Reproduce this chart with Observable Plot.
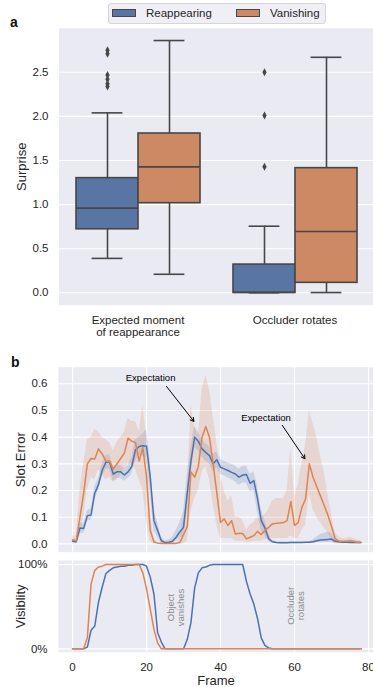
<!DOCTYPE html>
<html><head><meta charset="utf-8">
<script src="https://cdn.jsdelivr.net/npm/d3@7"></script>
<script src="https://cdn.jsdelivr.net/npm/@observablehq/plot@0.6"></script>
<style>
html,body{margin:0;padding:0;background:#fff;overflow:hidden;width:373px;height:687px;}
#root{position:relative;width:373px;height:687px;font-family:"Liberation Sans",Arial,sans-serif;color:#262626;}
.panel{position:absolute;left:0;}
.letter{position:absolute;font-weight:bold;font-size:14px;line-height:14px;color:#111;}
#legend{position:absolute;left:108px;top:3px;width:216px;height:19px;background:#EFEFF5;border:1px solid #d6d6d6;border-radius:3px;font-size:11.5px;}
#legend .patch{position:absolute;top:5px;width:22px;height:6px;border:1px solid #474747;}
#legend .lt{position:absolute;top:3px;line-height:13px;color:#262626;}
[aria-label="y-axis label"],[aria-label="x-axis label"]{font-size:13px;}
</style></head><body><div id="root">
<div class="letter" style="left:10px;top:15px">a</div>
<div class="letter" style="left:11px;top:355px">b</div>
<div id="legend">
<span class="patch" style="left:3px;background:#5875A4"></span><span class="lt" style="left:37px">Reappearing</span>
<span class="patch" style="left:127px;background:#CC8963"></span><span class="lt" style="left:161px">Vanishing</span>
</div>
</div>
<script>
// ---------- Panel a: box plot summary ----------
const categories = ["Expected moment\nof reappearance", "Occluder rotates"];
const seriesNames = ["Reappearing", "Vanishing"];
const surpriseTicks = [0, 0.5, 1, 1.5, 2, 2.5];
const reapLow = [0.39, 0.0], reapQ1 = [0.72, 0.0], reapMed = [0.96, 0.003], reapQ3 = [1.30, 0.32], reapHigh = [2.04, 0.755];
const vanLow = [0.21, 0.003], vanQ1 = [1.016, 0.113], vanMed = [1.428, 0.695], vanQ3 = [1.806, 1.413], vanHigh = [2.86, 2.67];
const reapOutliers = [[2.75, 2.71, 2.47, 2.42, 2.37, 2.34], [2.50, 2.01, 1.43]];
const vanOutliers = [[], []];

// ---------- Panel b: slot error per frame ----------
const frames = d3.range(0, 79);
const reapError = [0.010,0.008,0.060,0.058,0.106,0.108,0.190,0.222,0.275,0.306,
  0.308,0.262,0.270,0.270,0.258,0.270,0.290,0.352,0.365,0.368,
  0.366,0.250,0.088,0.050,0.012,0.005,0.006,0.010,0.025,0.045,
  0.062,0.190,0.310,0.400,0.385,0.356,0.343,0.331,0.300,0.315,
  0.287,0.281,0.275,0.268,0.262,0.250,0.258,0.260,0.227,0.237,
  0.170,0.087,0.060,0.020,0.008,0.005,0.004,0.004,0.004,0.005,
  0.005,0.005,0.005,0.006,0.006,0.008,0.012,0.015,0.016,0.017,
  0.018,0.010,0.008,0.006,0.006,0.005,0.005,0.005,0.005];
const reapLo = [0.005,0.004,0.040,0.040,0.085,0.090,0.165,0.200,0.250,0.280,
  0.280,0.235,0.245,0.245,0.235,0.245,0.260,0.310,0.330,0.330,
  0.320,0.190,0.050,0.025,0.003,0.000,0.000,0.002,0.010,0.020,
  0.030,0.130,0.260,0.360,0.350,0.325,0.310,0.300,0.270,0.285,
  0.260,0.255,0.248,0.240,0.233,0.220,0.228,0.228,0.195,0.200,
  0.120,0.050,0.030,0.008,0.003,0.002,0.001,0.001,0.001,0.001,
  0.001,0.001,0.001,0.001,0.001,0.002,0.004,0.005,0.005,0.005,
  0.006,0.003,0.002,0.002,0.002,0.002,0.002,0.002,0.002];
const reapHi = [0.015,0.012,0.080,0.075,0.125,0.130,0.215,0.245,0.300,0.330,
  0.335,0.290,0.295,0.295,0.280,0.295,0.320,0.390,0.400,0.410,
  0.430,0.310,0.130,0.080,0.025,0.012,0.015,0.025,0.050,0.080,
  0.120,0.260,0.360,0.440,0.420,0.390,0.375,0.365,0.335,0.345,
  0.315,0.310,0.303,0.298,0.292,0.280,0.290,0.292,0.260,0.270,
  0.220,0.130,0.090,0.035,0.014,0.009,0.008,0.008,0.008,0.008,
  0.008,0.008,0.008,0.008,0.008,0.015,0.025,0.035,0.040,0.045,
  0.040,0.020,0.015,0.010,0.010,0.010,0.010,0.010,0.010];
const vanError = [0.016,0.012,0.100,0.190,0.300,0.320,0.318,0.356,0.337,0.310,
  0.310,0.280,0.300,0.320,0.340,0.396,0.385,0.380,0.310,0.360,
  0.250,0.050,0.008,0.003,0.002,0.002,0.002,0.002,0.002,0.005,
  0.035,0.065,0.270,0.250,0.290,0.400,0.440,0.400,0.300,0.190,
  0.080,0.094,0.069,0.087,0.037,0.040,0.039,0.019,0.025,0.031,
  0.047,0.035,0.050,0.062,0.075,0.077,0.078,0.080,0.087,0.159,
  0.069,0.080,0.137,0.169,0.300,0.250,0.215,0.180,0.145,0.108,
  0.065,0.020,0.010,0.010,0.010,0.012,0.010,0.005,0.005];
const vanLo = [0.000,0.000,0.030,0.100,0.200,0.250,0.240,0.280,0.260,0.240,
  0.250,0.230,0.240,0.260,0.280,0.300,0.300,0.280,0.240,0.200,
  0.080,0.010,0.000,0.000,0.000,0.000,0.000,0.000,0.000,0.000,
  0.000,0.010,0.120,0.170,0.200,0.270,0.290,0.240,0.150,0.070,
  0.020,0.020,0.020,0.020,0.010,0.010,0.010,0.005,0.005,0.010,
  0.010,0.010,0.015,0.020,0.020,0.020,0.020,0.020,0.020,0.030,
  0.020,0.020,0.050,0.070,0.190,0.130,0.100,0.080,0.060,0.045,
  0.010,0.000,0.000,0.000,0.000,0.000,0.000,0.000,0.000];
const vanHi = [0.030,0.030,0.200,0.300,0.390,0.400,0.430,0.420,0.400,0.390,
  0.380,0.350,0.380,0.400,0.420,0.470,0.460,0.460,0.420,0.520,
  0.400,0.120,0.020,0.005,0.005,0.005,0.005,0.005,0.005,0.020,
  0.100,0.180,0.520,0.440,0.400,0.580,0.630,0.580,0.480,0.380,
  0.250,0.200,0.160,0.180,0.100,0.100,0.090,0.050,0.070,0.080,
  0.100,0.090,0.110,0.130,0.160,0.170,0.170,0.170,0.200,0.360,
  0.180,0.220,0.300,0.370,0.500,0.450,0.400,0.330,0.270,0.190,
  0.110,0.040,0.025,0.020,0.020,0.025,0.020,0.015,0.010];
const errorTicks = [0, 0.1, 0.2, 0.3, 0.4, 0.5, 0.6];
const frameTicks = [0, 20, 40, 60, 80];
const noteLabels = ["Expectation", "Expectation"];
const noteFrames = [21.1, 52.3], noteErrors = [0.621, 0.471];
const arrowFromFrames = [25.4, 56.7], arrowFromErrors = [0.59, 0.444];
const arrowToFrames = [32.8, 62.8], arrowToErrors = [0.459, 0.319];

// ---------- Visibility ----------
const reapVis = [0,0,0,0,0.02,0.22,0.27,0.55,0.73,0.89,
  0.93,0.96,0.97,0.98,0.98,0.99,0.99,1,1,1,
  0.98,0.85,0.65,0.19,0.08,0,0,0,0,0,
  0,0.11,0.31,0.72,0.9,0.96,0.97,0.99,1,1,
  1,1,1,1,1,1,1,0.8,0.65,0.53,
  0.36,0.13,0.04,0.01,0,0,0,0,0,0,
  0,0,0,0,0,0,0,0,0,0,
  0,0,0,0,0,0,0,0,0];
const vanVis = [0,0,0,0,0.13,0.77,0.93,0.97,0.98,1,
  1,1,1,1,1,1,1,1,1,0.9,
  0.71,0.47,0.23,0.07,0,0,0,0,0,0,
  0,0,0,0,0,0,0,0,0,0,
  0,0,0,0,0,0,0,0,0,0,
  0,0,0,0,0,0,0,0,0,0,
  0,0,0,0,0,0,0,0,0,0,
  0,0,0,0,0,0,0,0,0];
const visTicks = [0, 1];
const eventLabels = ["Object\nvanishes", "Occluder\nrotates"];
const eventFrames = [27.8, 60.3], eventLevels = [0.49, 0.51];

// ---------- tables ----------
const boxRows = [];
categories.forEach((c, i) => {
  boxRows.push({category: c, series: "Reappearing", low: reapLow[i], q1: reapQ1[i], med: reapMed[i], q3: reapQ3[i], high: reapHigh[i]});
  boxRows.push({category: c, series: "Vanishing", low: vanLow[i], q1: vanQ1[i], med: vanMed[i], q3: vanQ3[i], high: vanHigh[i]});
});
const outlierRows = [];
categories.forEach((c, i) => {
  reapOutliers[i].forEach(v => outlierRows.push({category: c, series: "Reappearing", value: v}));
  vanOutliers[i].forEach(v => outlierRows.push({category: c, series: "Vanishing", value: v}));
});
const errRows = [], visRows = [];
frames.forEach((f, i) => {
  errRows.push({frame: f, series: "Reappearing", value: reapError[i], lo: reapLo[i], hi: reapHi[i]});
  visRows.push({frame: f, series: "Reappearing", value: reapVis[i]});
});
frames.forEach((f, i) => {
  errRows.push({frame: f, series: "Vanishing", value: vanError[i], lo: vanLo[i], hi: vanHi[i]});
  visRows.push({frame: f, series: "Vanishing", value: vanVis[i]});
});
const notes = noteLabels.map((t, i) => ({t, x: noteFrames[i], y: noteErrors[i], x1: arrowFromFrames[i], y1: arrowFromErrors[i], x2: arrowToFrames[i], y2: arrowToErrors[i]}));
const events = eventLabels.map((t, i) => ({t, x: eventFrames[i], y: eventLevels[i]}));

const FONT = '"Liberation Sans", Arial, sans-serif';
const BG = "#EAEAF2", EDGE = "#474747";
const baseStyle = {fontFamily: FONT, fontSize: "11.5px", color: "#262626", background: "transparent", overflow: "visible"};
const thinDiamond = {draw(ctx, size) {
  const r = Math.sqrt(size / Math.PI);
  const w = r * 0.62, h = r * 1.15;
  ctx.moveTo(0, -h); ctx.lineTo(w, 0); ctx.lineTo(0, h); ctx.lineTo(-w, 0); ctx.closePath();
}};

const boxPlot = Plot.plot({
  width: 373, height: 345, marginTop: 28.3, marginBottom: 40.7, marginLeft: 58, marginRight: 0,
  style: baseStyle,
  fx: {domain: categories, padding: 0, label: null},
  x: {domain: seriesNames, paddingInner: 0, paddingOuter: 0.26, axis: null},
  y: {domain: [-0.136, 2.993], ticks: surpriseTicks, tickFormat: d3.format(".1f"), tickSize: 0, tickPadding: 11,
      label: "Surprise", labelAnchor: "center", labelOffset: 43, labelArrow: "none"},
  color: {domain: seriesNames, range: ["#5875A4", "#CC8963"]},
  marks: [
    Plot.frame({fill: BG, stroke: BG, strokeWidth: 1}),
    Plot.gridY(surpriseTicks, {stroke: "white", strokeOpacity: 1, strokeWidth: 1.1}),
    Plot.axisFx({anchor: "bottom", tickSize: 0, tickPadding: 10, label: null, lineHeight: 1.1, fontSize: 11.5}),
    Plot.ruleX(boxRows, {fx: "category", x: "series", y1: "low", y2: "q1", stroke: EDGE, strokeWidth: 1.6}),
    Plot.ruleX(boxRows, {fx: "category", x: "series", y1: "q3", y2: "high", stroke: EDGE, strokeWidth: 1.6}),
    Plot.tickY(boxRows, {fx: "category", x: "series", y: "low", stroke: EDGE, strokeWidth: 1.6, insetLeft: 15.6, insetRight: 15.6}),
    Plot.tickY(boxRows, {fx: "category", x: "series", y: "high", stroke: EDGE, strokeWidth: 1.6, insetLeft: 15.6, insetRight: 15.6}),
    Plot.barY(boxRows, {fx: "category", x: "series", y1: "q1", y2: "q3", fill: "series", stroke: EDGE, strokeWidth: 1.6, inset: 0}),
    Plot.tickY(boxRows, {fx: "category", x: "series", y: "med", stroke: EDGE, strokeWidth: 1.6}),
    Plot.dot(outlierRows, {fx: "category", x: "series", y: "value", symbol: thinDiamond, r: 3.5, fill: EDGE, stroke: "none"})
  ]
});

const errPlot = Plot.plot({
  width: 373, height: 210, marginTop: 21.7, marginBottom: 3.3, marginLeft: 58, marginRight: 0,
  style: baseStyle,
  x: {domain: [-3.8, 81.35], axis: null},
  y: {domain: [-0.031, 0.662], ticks: errorTicks, tickFormat: d3.format(".1f"), tickSize: 0, tickPadding: 11,
      label: "Slot Error", labelAnchor: "center", labelOffset: 43, labelArrow: "none"},
  color: {domain: seriesNames, range: ["#4C72B0", "#DD8452"]},
  marks: [
    Plot.frame({fill: BG, stroke: "none"}),
    Plot.gridY(errorTicks, {stroke: "white", strokeOpacity: 1, strokeWidth: 1.1}),
    Plot.gridX(frameTicks, {stroke: "white", strokeOpacity: 1, strokeWidth: 1.1}),
    Plot.areaY(errRows, {x: "frame", y1: "lo", y2: "hi", z: "series", fill: "series", fillOpacity: 0.2}),
    Plot.lineY(errRows, {x: "frame", y: "value", z: "series", stroke: "series", strokeWidth: 1.5}),
    Plot.arrow(notes, {x1: "x1", y1: "y1", x2: "x2", y2: "y2", stroke: "black", strokeWidth: 1, headLength: 6}),
    Plot.text(notes, {x: "x", y: "y", text: "t", fill: "black", fontSize: 9.5})
  ]
});

const visPlot = Plot.plot({
  width: 373, height: 132, marginTop: 5, marginBottom: 35.3, marginLeft: 58, marginRight: 0,
  style: baseStyle,
  x: {domain: [-3.8, 81.35], ticks: frameTicks, tickSize: 0, tickPadding: 11,
      label: "Frame", labelAnchor: "center", labelOffset: 33, labelArrow: "none"},
  y: {domain: [-0.04, 1.047], ticks: visTicks, tickFormat: d => Math.round(d * 100) + "%", tickSize: 0, tickPadding: 11,
      label: "Visiblity", labelAnchor: "center", labelOffset: 43, labelArrow: "none"},
  color: {domain: seriesNames, range: ["#4C72B0", "#DD8452"]},
  marks: [
    Plot.frame({fill: BG, stroke: "none"}),
    Plot.gridY(visTicks, {stroke: "white", strokeOpacity: 1, strokeWidth: 1.1}),
    Plot.gridX(frameTicks, {stroke: "white", strokeOpacity: 1, strokeWidth: 1.1}),
    Plot.lineY(visRows, {x: "frame", y: "value", z: "series", stroke: "series", strokeWidth: 1.5}),
    Plot.text(events, {x: "x", y: "y", text: "t", rotate: -90, fill: "#8a8a8a", fontSize: 9.5, lineHeight: 1.1})
  ]
});

const root = document.getElementById("root");
[[boxPlot, 0], [errPlot, 345], [visPlot, 555]].forEach(([el, top]) => {
  const d = document.createElement("div");
  d.className = "panel";
  d.style.top = top + "px";
  d.appendChild(el);
  root.insertBefore(d, root.firstChild);
});
</script>
</body></html>
